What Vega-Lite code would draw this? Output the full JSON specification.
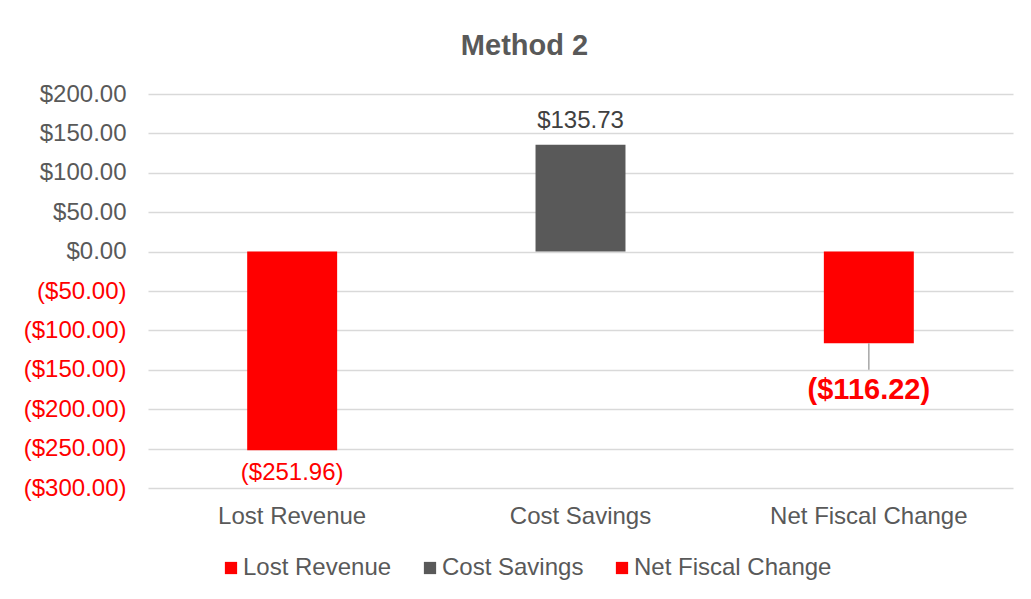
{
  "$schema": "https://vega.github.io/schema/vega-lite/v6.json",
  "autosize": {"type": "none"},
  "padding": {"left": 148, "top": 94, "right": 18, "bottom": 111},
  "width": 865,
  "height": 394,
  "background": "white",
  "title": {
    "text": "Method 2",
    "font": "Liberation Sans",
    "fontSize": 29,
    "fontWeight": "bold",
    "color": "#595959",
    "anchor": "middle",
    "frame": "group",
    "dx": -56,
    "offset": 21
  },
  "config": {
    "view": {"stroke": null},
    "font": "Liberation Sans"
  },
  "data": {
    "values": [
      {"category": "Lost Revenue", "value": -251.96},
      {"category": "Cost Savings", "value": 135.73},
      {"category": "Net Fiscal Change", "value": -116.22}
    ]
  },
  "transform": [
    {"calculate": "datum.value < 0 ? '($' + format(-datum.value, ',.2f') + ')' : '$' + format(datum.value, ',.2f')", "as": "label"}
  ],
  "encoding": {
    "x": {
      "field": "category",
      "type": "nominal",
      "sort": ["Lost Revenue", "Cost Savings", "Net Fiscal Change"],
      "scale": {"paddingInner": 0.688, "paddingOuter": 0.344},
      "axis": {
        "title": null,
        "labelAngle": 0,
        "labelFontSize": 24,
        "labelColor": "#595959",
        "labelPadding": 16,
        "labelLimit": 0,
        "ticks": false,
        "domain": false,
        "grid": false
      }
    },
    "y": {
      "field": "value",
      "type": "quantitative",
      "scale": {"domain": [-300, 200], "nice": false},
      "axis": {
        "title": null,
        "values": [-300, -250, -200, -150, -100, -50, 0, 50, 100, 150, 200],
        "labelExpr": "datum.value < 0 ? '($' + format(-datum.value, ',.2f') + ')' : '$' + format(datum.value, ',.2f') + '\u00a0'",
        "labelFontSize": 24,
        "labelLimit": 0,
        "labelColor": {"condition": {"test": "datum.value < 0", "value": "#FF0000"}, "value": "#595959"},
        "labelPadding": 22,
        "ticks": false,
        "domain": false,
        "grid": true,
        "gridColor": "#D9D9D9",
        "gridWidth": 1.5
      }
    }
  },
  "layer": [
    {
      "mark": {"type": "bar"},
      "encoding": {
        "color": {
          "field": "category",
          "type": "nominal",
          "sort": ["Lost Revenue", "Cost Savings", "Net Fiscal Change"],
          "scale": {
            "domain": ["Lost Revenue", "Cost Savings", "Net Fiscal Change"],
            "range": ["#FF0000", "#595959", "#FF0000"]
          },
          "legend": {
            "title": null,
            "orient": "none",
            "direction": "horizontal",
            "legendX": 71,
            "legendY": 462,
            "symbolType": "square",
            "symbolSize": 150,
            "symbolStrokeWidth": 0,
            "symbolOpacity": 1,
            "labelFontSize": 24,
            "labelLimit": 0,
            "labelColor": "#595959",
            "labelOffset": 0,
            "columnPadding": 26
          }
        }
      }
    },
    {
      "transform": [{"filter": "datum.category === 'Lost Revenue'"}],
      "mark": {"type": "text", "baseline": "middle", "dy": 23, "fontSize": 24, "color": "#FF0000"},
      "encoding": {
        "text": {"field": "label", "type": "nominal"}
      }
    },
    {
      "transform": [{"filter": "datum.category === 'Cost Savings'"}],
      "mark": {"type": "text", "baseline": "middle", "dy": -24, "fontSize": 24, "color": "#404040"},
      "encoding": {
        "text": {"field": "label", "type": "nominal"}
      }
    },
    {
      "transform": [{"filter": "datum.category === 'Net Fiscal Change'"}],
      "mark": {"type": "rule", "color": "#A6A6A6", "strokeWidth": 1.5},
      "encoding": {
        "y2": {"datum": -150}
      }
    },
    {
      "transform": [{"filter": "datum.category === 'Net Fiscal Change'"}],
      "mark": {"type": "text", "baseline": "middle", "dy": 47, "fontSize": 29, "fontWeight": "bold", "color": "#FF0000"},
      "encoding": {
        "text": {"field": "label", "type": "nominal"}
      }
    }
  ]
}
